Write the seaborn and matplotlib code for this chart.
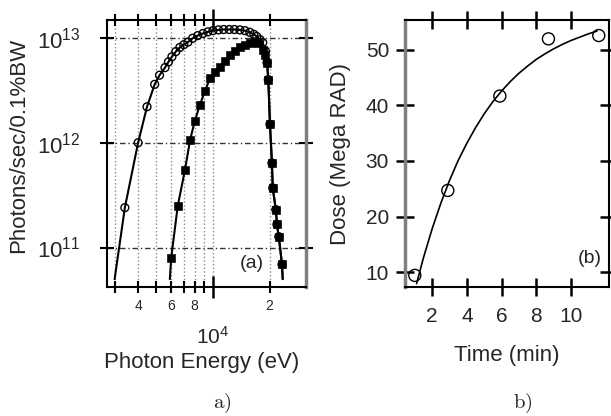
import numpy as np
import pandas as pd
import matplotlib
matplotlib.use('Agg')
import matplotlib.pyplot as plt
import seaborn as sns
from matplotlib.ticker import NullLocator

# panel a: spectra (photon energy in eV, photons/sec/0.1%BW)
open_energy = [3000, 3400, 4000, 4460, 4900, 5200, 5560, 5800, 6050, 6350,
               6670, 7000, 7360, 7800, 8300, 8850, 9400, 10000, 10700, 11400,
               12200, 13000, 13900, 14800, 15700, 16500, 17100, 17800, 18400,
               19000, 19400, 19700, 20100, 20600, 20800, 21600, 21900, 22400,
               23300, 23500]
open_flux = [5e10, 2.4e11, 1.0e12, 2.2e12, 3.6e12, 4.4e12, 5.2e12, 5.9e12,
             6.6e12, 7.4e12, 8.1e12, 8.6e12, 9.1e12, 9.9e12, 1.05e13, 1.1e13,
             1.14e13, 1.17e13, 1.19e13, 1.2e13, 1.2e13, 1.2e13, 1.19e13,
             1.17e13, 1.13e13, 1.08e13, 1.03e13, 9.6e12, 9.0e12, 7.5e12,
             5.8e12, 4.0e12, 1.5e12, 6.4e11, 3.7e11, 2.3e11, 1.66e11, 1.27e11,
             6.9e10, 5e10]

filled_energy = [5900, 6000, 6500, 7100, 7550, 8000, 8530, 9060, 9640, 10300,
                 10900, 11600, 12300, 13100, 13900, 14800, 15700, 16500, 17400,
                 18400, 19000, 19400, 19700, 20100, 20600, 20800, 21600, 21900,
                 22400, 23300, 23500]
filled_flux = [5e10, 8e10, 2.5e11, 5.5e11, 1.05e12, 1.6e12, 2.3e12, 3.1e12,
               4.1e12, 4.7e12, 5.3e12, 6.0e12, 6.8e12, 7.5e12, 8.1e12, 8.6e12,
               9.0e12, 9.1e12, 9.0e12, 7.6e12, 6.8e12, 5.8e12, 4.0e12, 1.5e12,
               6.4e11, 3.7e11, 2.3e11, 1.66e11, 1.27e11, 6.9e10, 5e10]

# panel b: dose vs time
time_meas = [1.0, 2.9, 5.9, 8.7, 11.6]
dose_meas = [9.4, 24.7, 41.7, 52.0, 52.6]
time_fit = [1.1, 1.5, 2.0, 2.5, 3.0, 3.5, 4.0, 4.5, 5.0, 5.5, 6.0, 6.5, 7.0,
            7.5, 8.0, 8.5, 9.0, 9.5, 10.0, 10.5, 11.0, 11.5]
dose_fit = [7.9, 12.6, 17.8, 22.4, 26.5, 30.1, 33.2, 36.0, 38.5, 40.7, 42.6,
            44.3, 45.8, 47.1, 48.3, 49.3, 50.2, 51.0, 51.7, 52.3, 52.9, 53.4]

sns.set_theme(style='ticks')
plt.rcParams['font.family'] = ['Liberation Sans', 'DejaVu Sans']
plt.rcParams['mathtext.fontset'] = 'cm'

fig = plt.figure(figsize=(6.11, 4.16), dpi=100)

# ---------------- panel a
ax1 = fig.add_axes([0.175, 0.310, 0.326, 0.642])
ax1.set_xscale('log')
ax1.set_yscale('log')

sns.lineplot(x=open_energy, y=open_flux, ax=ax1, color='black', lw=1.5,
             sort=False, estimator=None)
sns.lineplot(x=filled_energy, y=filled_flux, ax=ax1, color='black', lw=1.5,
             sort=False, estimator=None)
sns.scatterplot(x=open_energy[1:-1], y=open_flux[1:-1], ax=ax1, marker='o',
                s=32, facecolor='none', edgecolor='black', linewidth=1, zorder=3)
sns.scatterplot(x=filled_energy[1:-1], y=filled_flux[1:-1], ax=ax1, marker='s',
                s=30, color='black', edgecolor='black', zorder=3)

ax1.set_xlim(2730, 31300)
ax1.set_ylim(4.2e10, 1.48e13)

ax1.set_xticks([1e4], labels=[''])
ax1.set_xticks([3e3, 4e3, 5e3, 6e3, 7e3, 8e3, 9e3, 2e4],
               labels=['', '4', '', '6', '', '8', '', '2'], minor=True)
ax1.set_yticks([1e11, 1e12, 1e13],
               labels=[r'$\mathregular{10^{11}}$', r'$\mathregular{10^{12}}$',
                       r'$\mathregular{10^{13}}$'])
ax1.yaxis.set_minor_locator(NullLocator())
ax1.tick_params(axis='x', which='major', direction='inout', length=16,
                width=1.8, top=True, color='black')
ax1.tick_params(axis='x', which='minor', direction='inout', length=9,
                width=1.5, top=True, labelsize=10, pad=4, color='black')
ax1.tick_params(axis='y', which='major', direction='inout', length=10,
                width=1.5, right=True, labelsize=16, pad=14, color='black')

ax1.grid(True, axis='y', which='major', ls=(0, (4, 2, 1, 2)), color='#333333', lw=1)
ax1.grid(True, axis='x', which='both', ls=':', color='#8a8a8a', lw=1)

for side in ['left', 'top', 'bottom']:
    ax1.spines[side].set_color('black')
    ax1.spines[side].set_linewidth(1.5)
ax1.spines['right'].set_color('#808080')
ax1.spines['right'].set_linewidth(2.5)

ax1.set_ylabel('Photons/sec/0.1%BW', fontsize=16)
ax1.yaxis.set_label_coords(-0.39, 0.53)
ax1.set_xlabel('Photon Energy (eV)', fontsize=16)
ax1.xaxis.set_label_coords(0.477, -0.245)
ax1.annotate(r'$\mathregular{10^4}$', xy=(1e4, -0.185),
             xycoords=('data', 'axes fraction'), ha='center', va='center',
             fontsize=15, annotation_clip=False)
ax1.text(0.729, 0.09, '(a)', transform=ax1.transAxes, ha='center',
         va='center', fontsize=14)

# ---------------- panel b
ax2 = fig.add_axes([0.663, 0.310, 0.334, 0.642])
sns.lineplot(x=time_fit, y=dose_fit, ax=ax2, color='black', lw=1.2,
             sort=False, estimator=None)
sns.scatterplot(x=time_meas, y=dose_meas, ax=ax2, marker='o', s=75,
                facecolor='none', edgecolor='black', linewidth=1, zorder=3)

ax2.set_xlim(0.44, 12.2)
ax2.set_ylim(7.3, 55.4)
ax2.set_xticks([2, 4, 6, 8, 10])
ax2.set_yticks([10, 20, 30, 40, 50])
ax2.tick_params(axis='both', which='major', direction='inout', length=13,
                width=1.8, top=True, right=True, labelsize=15, color='black')
ax2.tick_params(axis='x', pad=8)
ax2.tick_params(axis='y', pad=5)

for side in ['right', 'top', 'bottom']:
    ax2.spines[side].set_color('black')
    ax2.spines[side].set_linewidth(1.5)
ax2.spines['left'].set_color('#808080')
ax2.spines['left'].set_linewidth(2.5)

ax2.set_ylabel('Dose (Mega RAD)', fontsize=16)
ax2.yaxis.set_label_coords(-0.265, 0.5)
ax2.set_xlabel('Time (min)', fontsize=16)
ax2.xaxis.set_label_coords(0.5, -0.218)
ax2.text(0.966, 0.105, '(b)', transform=ax2.transAxes, ha='right',
         va='center', fontsize=14)

# captions
fig.text(0.363, 0.03, r'$\mathrm{a)}$', ha='center', va='center', fontsize=15)
fig.text(0.856, 0.03, r'$\mathrm{b)}$', ha='center', va='center', fontsize=15)

fig.savefig('out.png', dpi=100)
